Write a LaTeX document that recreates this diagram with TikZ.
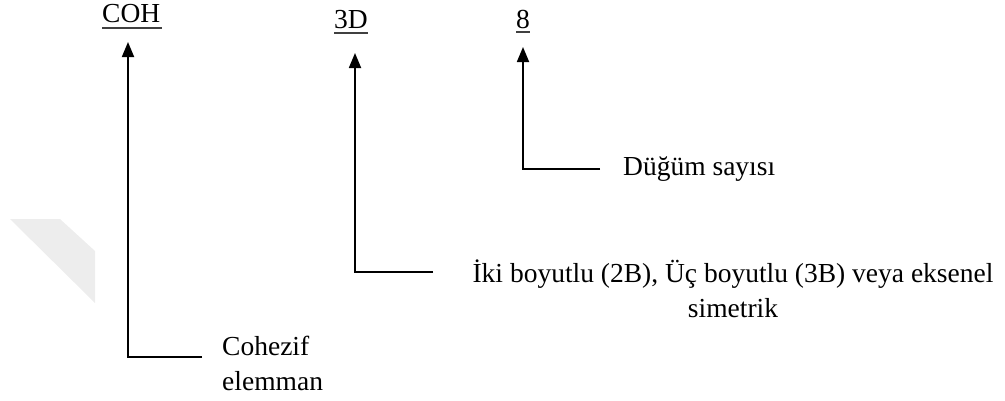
\documentclass[tikz,border=0pt]{standalone}
\usepackage{fontspec}
\setmainfont{Liberation Serif}
\usetikzlibrary{arrows.meta}
\begin{document}
\begin{tikzpicture}[x=1pt,y=-1pt,
  code/.style={anchor=base west,inner sep=0pt,font=\fontsize{27.5}{35}\selectfont},
  desc/.style={anchor=base west,inner sep=0pt,font=\fontsize{27.5}{35}\selectfont,align=left},
  pointer/.style={line width=1.8pt,-{Triangle[width=12pt,length=15pt]}},
  uline/.style={line width=1.3pt,black!75}]
\useasboundingbox (0,0) rectangle (1005,400);
% faint mark at the left edge
\fill[black!7] (10,219) -- (60,219) -- (95,251) -- (95,303) -- cycle;

% element code parts
\node[code] (coh) at (102,22) {COH};
\node[code] (dim) at (334,28) {3D};
\node[code] (nn)  at (516,28) {8};
\draw[uline] (coh.base west) ++(0,6) -- ++(60,0);
\draw[uline] (dim.base west) ++(0,5) -- ++(34,0);
\draw[uline] (nn.base west)  ++(0,4) -- ++(14,0);

% descriptions (base anchor of a multi-line node is its last line)
\node[desc] (dnn) at (623,175) {Düğüm sayısı};
\node[anchor=base,inner sep=0pt,font=\fontsize{27.5}{35}\selectfont,align=center] (ddim) at (733,317)
  {İki boyutlu (2B), Üç boyutlu (3B) veya eksenel\\simetrik};
\node[desc] (dcoh) at (222,390) {Cohezif\\elemman};

% leader lines
\coordinate (enn)  at (600,169);
\coordinate (cnn)  at (523,169);
\coordinate (tnn)  at (523,47);
\coordinate (edim) at (433,272);
\coordinate (cdim) at (355,272);
\coordinate (tdim) at (355,53);
\coordinate (ecoh) at (202,357);
\coordinate (ccoh) at (128,357);
\coordinate (tcoh) at (128,42);
\draw[pointer] (enn) -- (cnn) -- (tnn);
\draw[pointer] (edim) -- (cdim) -- (tdim);
\draw[pointer] (ecoh) -- (ccoh) -- (tcoh);
\end{tikzpicture}
\end{document}
